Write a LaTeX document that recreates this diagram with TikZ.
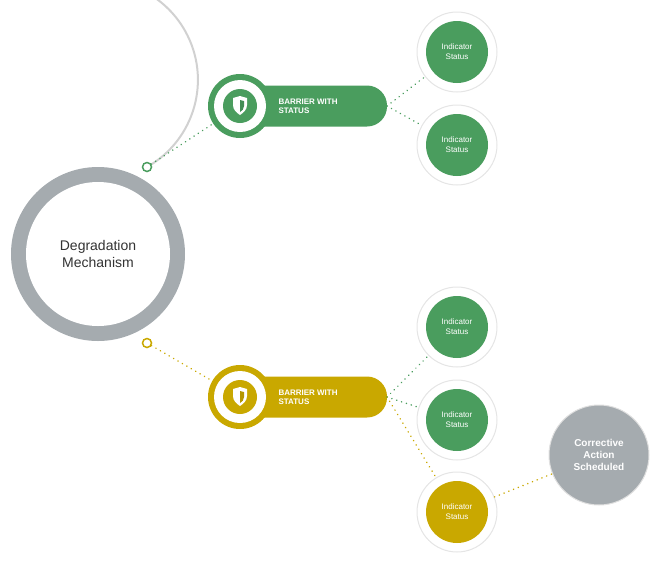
\documentclass[tikz,border=0pt]{standalone}
\usepackage{fontspec}
\setmainfont{Liberation Sans}
\begin{document}
\begin{tikzpicture}[x=1pt,y=-1pt,
  every node/.style={font=\sffamily},
  dotg/.style={line width=1.6pt,dash pattern=on 0.1pt off 5pt,line cap=round,color=grn},
  doty/.style={line width=1.6pt,dash pattern=on 0.1pt off 5pt,line cap=round,color=gld},
  halo/.style={circle,fill=white,draw=black!8,line width=1pt,minimum size=80pt,drop shadow/.style={}},
  ind/.style={circle,minimum size=62pt,text=white,align=center,font=\fontsize{8}{10}\selectfont},
  pill/.style={rounded corners=20pt,minimum height=41pt,text=white,font=\bfseries\fontsize{8}{9}\selectfont,align=left}]
\definecolor{grn}{HTML}{4A9D5E}
\definecolor{gld}{HTML}{C9A800}
\definecolor{gry}{HTML}{A5ABAF}
\useasboundingbox (0,0) rectangle (656,563);
% main
\node[circle,fill=gry,minimum size=174pt] (main) at (98,254) {};
\node[circle,fill=white,minimum size=144pt,align=center,font=\fontsize{14}{17}\selectfont,text=black!80] at (main) {Degradation\\Mechanism};
\draw[black!18,line width=2pt] (147,167) arc[start angle=60.6,end angle=-60.6,radius=100];
\node[circle,draw=grn,fill=white,line width=1.5pt,minimum size=9pt,inner sep=0] (c1) at (147,167) {};
\node[circle,draw=gld,fill=white,line width=1.5pt,minimum size=9pt,inner sep=0] (c2) at (147,343) {};
% barriers
\foreach \n/\y/\c in {b1/106/grn,b2/397/gld}{
  \fill[\c,rounded corners=20pt] (240,\y-20.5) rectangle (387,\y+20.5);
  \node[circle,fill=\c,minimum size=64pt] (\n) at (240,\y) {};
  \node[circle,fill=white,minimum size=52pt] at (\n) {};
  \node[circle,fill=\c,minimum size=34pt] at (\n) {};
  \fill[white] (233,\y-8) -- (240,\y-10) -- (247,\y-8) -- (247,\y-1) .. controls (247,\y+4) and (243,\y+7) .. (240,\y+9) .. controls (237,\y+7) and (233,\y+4) .. (233,\y-1) -- cycle;
  \fill[\c!90!black] (240,\y-6) -- (244,\y-5) -- (244,\y) .. controls (244,\y+3) and (242,\y+5) .. (240,\y+6) -- cycle;
  \coordinate (\n e) at (387,\y);
}
\node[anchor=west,text=white,font=\bfseries\fontsize{8}{9}\selectfont,align=left] at (275,106) {BARRIER WITH\\STATUS};
\node[anchor=west,text=white,font=\bfseries\fontsize{8}{9}\selectfont,align=left] at (275,397) {BARRIER WITH\\STATUS};
% indicators
\foreach \n/\y/\c in {i1/52/grn,i2/145/grn,i3/327/grn,i4/420/grn,i5/512/gld}{
  \node[circle,fill=white,draw=black!10,line width=1pt,minimum size=80pt] (\n h) at (457,\y) {};
  \node[ind,fill=\c] (\n) at (457,\y) {Indicator\\Status};
}
\node[circle,fill=gry,draw=black!12,line width=1pt,minimum size=100pt,text=white,align=center,font=\bfseries\fontsize{10}{12}\selectfont] (ca) at (599,455) {Corrective\\Action\\Scheduled};
% connectors
\draw[dotg] (c1) -- (b1);
\draw[doty] (c2) -- (b2);
\draw[dotg] (b1e) -- (i1h);
\draw[dotg] (b1e) -- (i2h);
\draw[dotg] (b2e) -- (i3h);
\draw[dotg] (b2e) -- (i4h);
\draw[doty] (b2e) -- (i5h);
\draw[doty] (i5h) -- (ca);
\end{tikzpicture}
\end{document}
